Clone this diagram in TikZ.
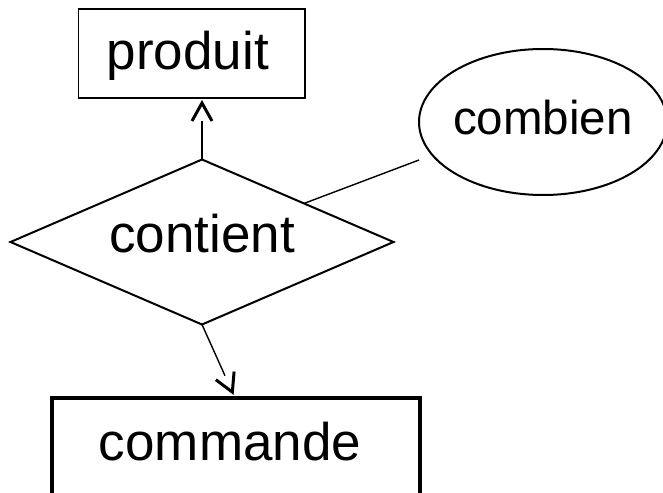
\documentclass[tikz,border=0pt]{standalone}
\usepackage{fontspec}
\setmainfont{Liberation Sans}
\usetikzlibrary{shapes.geometric,calc}

\begin{document}
\begin{tikzpicture}[x=1pt,y=-1pt,
  every node/.style={inner sep=0pt, outer sep=0pt},
  bigtext/.style={font=\fontsize{53}{60}\selectfont},
  entity/.style={draw, rectangle, bigtext, text depth=0pt},
  relation/.style={draw, diamond, line width=2pt, bigtext, aspect=2.32, text depth=0pt},
  attribute/.style={draw, ellipse, line width=2pt, font=\fontsize{47.5}{55}\selectfont, text depth=0pt},
  link/.style={line width=1.4pt},
  barbhead/.style={line width=3pt, line cap=butt, line join=miter}
]
\useasboundingbox (0,0) rectangle (663,492);
\clip (0,0) rectangle (663,492);
\fill[white] (0,0) rectangle (663,492);

% entities, relation and attribute
\node[entity, line width=1.5pt, minimum width=226.5pt, minimum height=89pt,
      text height=33pt] (produit) at (191.75,53.5) {\hspace*{-8pt}produit};
\node[relation, minimum width=383pt, minimum height=165pt,
      text height=20pt] (contient) at (202,242) {contient};
\node[entity, line width=3.5pt, minimum width=368pt, minimum height=122pt,
      text height=2pt] (commande) at (236,459) {\hspace*{-12pt}commande};
\node[attribute, minimum width=248pt, minimum height=146pt,
      text height=26pt] (combien) at (543,122) {\makebox[150pt]{combien}};

% tips and bases of the open arrowheads
\coordinate (tipA) at ($(contient.north |- produit.south)!5pt!(contient.north)$);
\coordinate (baseA) at ($(tipA)!18pt!(contient.north)$);
\coordinate (tipB) at ($([xshift=-1pt]commande.north)!6.5pt!(contient.south)$);
\coordinate (baseB) at ($(tipB)!18pt!(contient.south)$);

% contient -> produit
\draw[link] (contient.north) -- (baseA);
\draw[barbhead] ($(baseA)!10pt!90:(tipA)$) -- (tipA) -- ($(baseA)!10pt!-90:(tipA)$);

% contient -> commande
\draw[link] (contient.south) -- (baseB);
\draw[barbhead] ($(baseB)!10pt!90:(tipB)$) -- (tipB) -- ($(baseB)!10pt!-90:(tipB)$);

% contient -- combien
\coordinate (cbend) at (419,160);
\draw[link] (contient) -- (cbend);
\end{tikzpicture}
\end{document}
